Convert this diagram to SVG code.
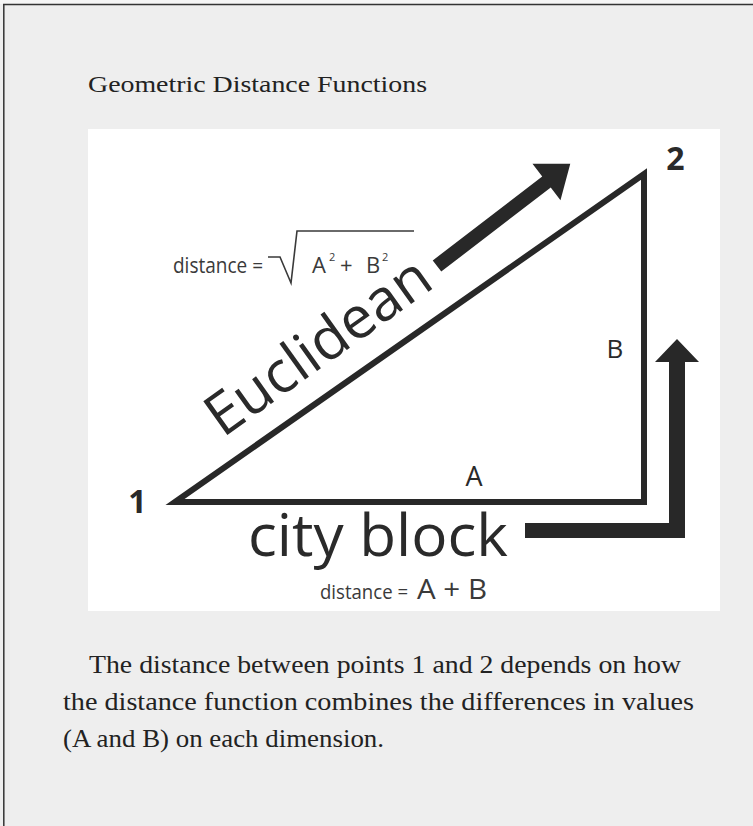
<svg xmlns="http://www.w3.org/2000/svg" width="753" height="826" viewBox="0 0 753 826">
  <style>
    .serif { font-family: "Liberation Serif", "DejaVu Serif", serif; fill: #222222; }
    .sans { font-family: "Open Sans", "Noto Sans", "DejaVu Sans", sans-serif; fill: #2a2a2a; }
    .formula { font-family: "Open Sans", "Noto Sans", "DejaVu Sans", sans-serif; fill: #3a3a3a; }
    .edge { fill: none; stroke: #282828; stroke-width: 6; stroke-linejoin: miter; }
    .arrow { fill: #282828; stroke: none; }
  </style>
  <g id="frame">
    <rect x="0" y="0" width="753" height="826" fill="#eeeeee"/>
    <rect x="0" y="0" width="753" height="4" fill="#f5f5f5"/>
    <line x1="3" y1="4.5" x2="753" y2="4.5" stroke="#333333" stroke-width="1.5"/>
    <line x1="3.8" y1="4" x2="3.8" y2="826" stroke="#333333" stroke-width="1.5"/>
  </g>
  <g id="title">
    <text class="serif" x="88" y="92" font-size="24" textLength="339" lengthAdjust="spacingAndGlyphs">Geometric Distance Functions</text>
  </g>
  <g id="figure">
    <rect x="88" y="129" width="632" height="482" fill="#ffffff"/>
    <g id="connectors">
      <polygon id="triangle" class="edge" points="175,502 644,174 644,502"/>
      <g id="euclidean-arrow" transform="translate(437,266) rotate(-37.5)">
        <polygon class="arrow" points="0,-7 138,-7 138,-23 168,0 138,23 138,7 0,7"/>
      </g>
      <polygon id="cityblock-arrow" class="arrow" points="525,523 669,523 669,362 655,362 677,339 699,362 685,362 685,538 525,538"/>
    </g>
    <g id="point1">
      <text class="sans" x="137.5" y="513" font-size="32" font-weight="bold" text-anchor="middle">1</text>
    </g>
    <g id="point2">
      <text class="sans" x="675.5" y="170" font-size="32" font-weight="bold" text-anchor="middle">2</text>
    </g>
    <g id="label-A">
      <text class="sans" x="474" y="486" font-size="27" text-anchor="middle">A</text>
    </g>
    <g id="label-B">
      <text class="sans" x="615" y="358" font-size="26" text-anchor="middle">B</text>
    </g>
    <g id="euclidean">
      <text class="sans" transform="translate(226,436) rotate(-35.5)" x="-4" y="0" font-size="58" font-weight="500" textLength="262" lengthAdjust="spacingAndGlyphs">Euclidean</text>
      <g id="euclidean-formula">
        <text class="formula" x="173" y="273" font-size="22" textLength="90" lengthAdjust="spacingAndGlyphs">distance =</text>
        <path d="M268,257 L280,257 L291,283 L297,231 L414,231" fill="none" stroke="#3a3a3a" stroke-width="1.6"/>
        <text class="formula" x="312" y="273" font-size="22">A</text>
        <text class="formula" x="329" y="261" font-size="11">2</text>
        <text class="formula" x="340" y="273" font-size="22">+</text>
        <text class="formula" x="366" y="273" font-size="22">B</text>
        <text class="formula" x="382" y="261" font-size="11">2</text>
      </g>
    </g>
    <g id="cityblock">
      <text class="sans" x="248" y="556" font-size="58" textLength="260" lengthAdjust="spacingAndGlyphs">city block</text>
      <g id="cityblock-formula">
        <text class="formula" x="320" y="599" font-size="20" textLength="88" lengthAdjust="spacingAndGlyphs">distance =</text>
        <text class="formula" x="417" y="599" font-size="27" textLength="70" lengthAdjust="spacingAndGlyphs">A + B</text>
      </g>
    </g>
  </g>
  <g id="caption">
    <text class="serif" x="89" y="673" font-size="25" textLength="592" lengthAdjust="spacingAndGlyphs">The distance between points 1 and 2 depends on how</text>
    <text class="serif" x="63" y="710" font-size="25" textLength="631" lengthAdjust="spacingAndGlyphs">the distance function combines the differences in values</text>
    <text class="serif" x="63" y="747" font-size="25" textLength="321" lengthAdjust="spacingAndGlyphs">(A and B) on each dimension.</text>
  </g>
</svg>
